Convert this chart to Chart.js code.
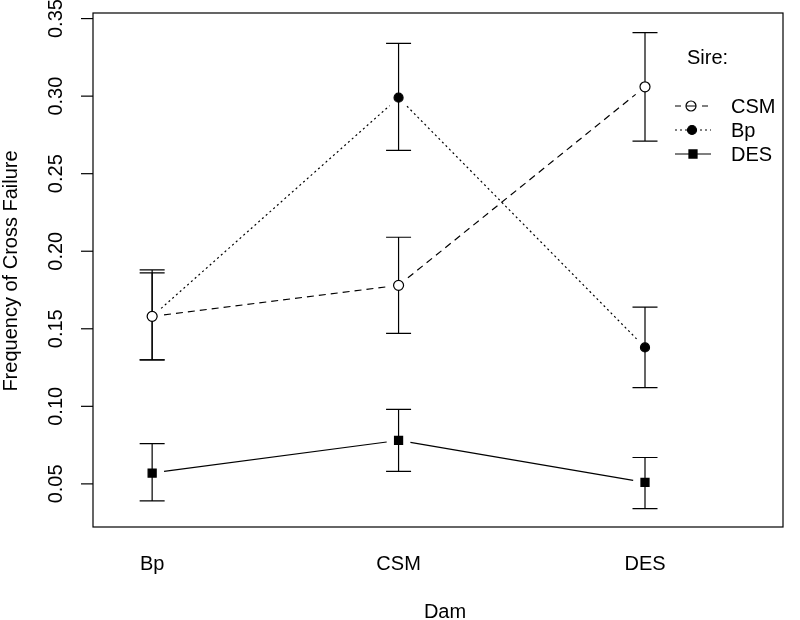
<!DOCTYPE html>
<html><head><meta charset="utf-8">
<script src="https://cdn.jsdelivr.net/npm/chart.js@4"></script>
<style>html,body{margin:0;padding:0;background:#fff}#wrap{width:800px;height:620px}</style>
</head><body><div id="wrap"><canvas id="c" width="800" height="620"></canvas></div>
<script>
// ---- data ----
const dams = ['Bp', 'CSM', 'DES'];
const sireLabels = ['CSM', 'Bp', 'DES'];
const csmMean = [0.158, 0.178, 0.306];
const csmLo   = [0.130, 0.147, 0.271];
const csmHi   = [0.186, 0.209, 0.341];
const bpMean  = [0.158, 0.299, 0.138];
const bpLo    = [0.130, 0.265, 0.112];
const bpHi    = [0.188, 0.334, 0.164];
const desMean = [0.057, 0.078, 0.051];
const desLo   = [0.039, 0.058, 0.034];
const desHi   = [0.076, 0.098, 0.067];
const yTicks = [0.05, 0.10, 0.15, 0.20, 0.25, 0.30, 0.35];
const yTickLabels = ['0.05', '0.10', '0.15', '0.20', '0.25', '0.30', '0.35'];
const xTitle = 'Dam';
const yTitle = 'Frequency of Cross Failure';
const legendTitle = 'Sire:';

const FONT = '20px "Liberation Sans", Arial, sans-serif';
const means = [csmMean, bpMean, desMean];
const los = [csmLo, bpLo, desLo];
const his = [csmHi, bpHi, desHi];
const dashes = [[7, 5], [2, 3], []];
const pStyles = ['circle', 'circle', 'rect'];
const pFills = ['#ffffff', '#000000', '#000000'];
const legendFills = ['rgba(0,0,0,0)', '#000000', '#000000'];
const pRadii = [5, 4.5, 5.7];

const datasets = sireLabels.map((lab, k) => ({
  label: lab,
  data: means[k].map((v, i) => ({ x: i + 1, y: v })),
  showLine: false,
  pointStyle: pStyles[k],
  pointRadius: pRadii[k],
  pointBackgroundColor: pFills[k],
  pointBorderColor: '#000',
  pointBorderWidth: 1.2
}));

const rPlugin = {
  id: 'rstyle',
  beforeDatasetsDraw(chart) {
    const ctx = chart.ctx, xs = chart.scales.x, ys = chart.scales.y;
    ctx.save();
    ctx.strokeStyle = '#000';
    ctx.lineWidth = 1.2;
    // error bars
    for (let k = 0; k < means.length; k++) {
      for (let i = 0; i < means[k].length; i++) {
        const x = xs.getPixelForValue(i + 1);
        const yl = ys.getPixelForValue(los[k][i]);
        const yh = ys.getPixelForValue(his[k][i]);
        ctx.beginPath();
        ctx.moveTo(x, yl); ctx.lineTo(x, yh);
        ctx.moveTo(x - 12.5, yl); ctx.lineTo(x + 12.5, yl);
        ctx.moveTo(x - 12.5, yh); ctx.lineTo(x + 12.5, yh);
        ctx.stroke();
      }
    }
    // connecting lines with gaps (R type = "b")
    const gap = 12;
    for (let k = 0; k < means.length; k++) {
      const meta = chart.getDatasetMeta(k);
      ctx.setLineDash(dashes[k]);
      for (let i = 0; i < meta.data.length - 1; i++) {
        const p0 = meta.data[i], p1 = meta.data[i + 1];
        const dx = p1.x - p0.x, dy = p1.y - p0.y;
        const L = Math.hypot(dx, dy);
        if (L <= 2 * gap) continue;
        const ux = dx / L, uy = dy / L;
        ctx.beginPath();
        ctx.moveTo(p0.x + ux * gap, p0.y + uy * gap);
        ctx.lineTo(p1.x - ux * gap, p1.y - uy * gap);
        ctx.stroke();
      }
    }
    ctx.restore();
  },
  afterDraw(chart) {
    const ctx = chart.ctx, a = chart.chartArea, xs = chart.scales.x, ys = chart.scales.y;
    ctx.save();
    ctx.strokeStyle = '#000';
    ctx.fillStyle = '#000';
    ctx.lineWidth = 1.2;
    ctx.setLineDash([]);
    // box
    ctx.strokeRect(a.left, a.top, a.right - a.left, a.bottom - a.top);
    // y ticks
    ctx.font = FONT;
    ctx.textAlign = 'center';
    ctx.textBaseline = 'middle';
    yTicks.forEach((v, i) => {
      const y = ys.getPixelForValue(v);
      ctx.beginPath();
      ctx.moveTo(a.left - 12, y); ctx.lineTo(a.left, y);
      ctx.stroke();
      ctx.save();
      ctx.translate(56, y);
      ctx.rotate(-Math.PI / 2);
      ctx.fillText(yTickLabels[i], 0, 0);
      ctx.restore();
    });
    // y title
    ctx.save();
    ctx.translate(11, (a.top + a.bottom) / 2 + 1);
    ctx.rotate(-Math.PI / 2);
    ctx.fillText(yTitle, 0, 0);
    ctx.restore();
    // x labels
    dams.forEach((d, i) => {
      ctx.fillText(d, xs.getPixelForValue(i + 1), 564);
    });
    ctx.fillText(xTitle, (a.left + a.right) / 2 + 7, 612);
    // legend
    ctx.textAlign = 'left';
    ctx.fillText(legendTitle, 687, 58);
    const lys = [106, 130, 154];
    const lx = [691, 692, 693];
    sireLabels.forEach((lab, k) => {
      const y = lys[k], x = lx[k];
      ctx.lineWidth = 1.2;
      ctx.beginPath();
      if (k === 0) {
        ctx.moveTo(675, y); ctx.lineTo(681, y);
        ctx.moveTo(686, y); ctx.lineTo(696, y);
        ctx.moveTo(702, y); ctx.lineTo(708, y);
        ctx.stroke();
      } else {
        ctx.setLineDash(dashes[k]);
        ctx.moveTo(675, y); ctx.lineTo(711, y);
        ctx.stroke();
        ctx.setLineDash([]);
      }
      ctx.fillStyle = legendFills[k];
      Chart.helpers.drawPoint(ctx, {
        pointStyle: pStyles[k], radius: pRadii[k], rotation: 0, borderWidth: 1.2
      }, x, y);
      ctx.fillStyle = '#000';
      ctx.fillText(lab, 731, y + 1);
    });
    ctx.restore();
  }
};

new Chart(document.getElementById('c'), {
  type: 'scatter',
  data: { datasets },
  options: {
    responsive: false,
    animation: false,
    layout: { padding: { top: 13, right: 17, left: 0, bottom: 0 } },
    plugins: { legend: { display: false }, tooltip: { enabled: false } },
    scales: {
      x: {
        type: 'linear', min: 0.76, max: 3.56,
        ticks: { display: false }, grid: { display: false }, border: { display: false },
        afterFit: s => { s.height = 93; }
      },
      y: {
        min: 0.0222, max: 0.3536,
        ticks: { display: false }, grid: { display: false }, border: { display: false },
        afterFit: s => { s.width = 93; }
      }
    }
  },
  plugins: [rPlugin]
});
</script>
</body></html>
